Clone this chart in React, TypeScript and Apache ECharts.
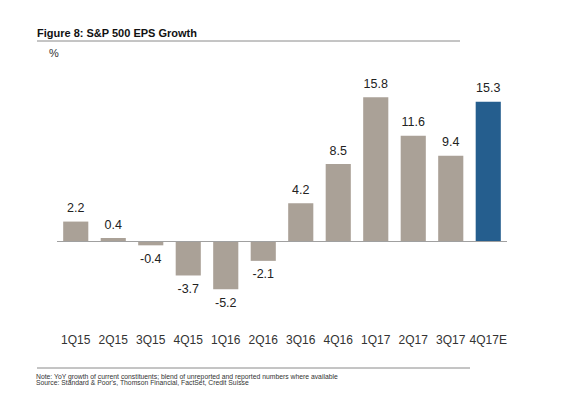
import React, { useEffect, useRef } from "react";
import * as echarts from "echarts";

const categories = ["1Q15", "2Q15", "3Q15", "4Q15", "1Q16", "2Q16", "3Q16", "4Q16", "1Q17", "2Q17", "3Q17", "4Q17E"];
const values = [2.2, 0.4, -0.4, -3.7, -5.2, -2.1, 4.2, 8.5, 15.8, 11.6, 9.4, 15.3];
const highlightIndex = 11;

const titleText = "Figure 8: S&P 500 EPS Growth";
const unitText = "%";
const noteText = "Note: YoY growth of current constituents; blend of unreported and reported numbers where available";
const sourceText = "Source: Standard & Poor's, Thomson Financial, FactSet, Credit Suisse";

const GRAY = "#aaa197";
const BLUE = "#255e8e";
const FONT = "'Liberation Sans', Arial, Helvetica, sans-serif";

export default function App() {
  const ref = useRef<HTMLDivElement>(null);
  useEffect(() => {
    if (!ref.current) return;
    const chart = echarts.init(ref.current, undefined, { renderer: "svg" });
    chart.setOption({
      animation: false,
      backgroundColor: "#ffffff",
      textStyle: { fontFamily: FONT },
      grid: { left: 57, right: 77, top: 77.2, bottom: 102.5 },
      xAxis: {
        type: "category",
        data: categories,
        axisLine: { show: false, onZero: false },
        axisTick: { show: false },
        axisLabel: { color: "#333", fontSize: 12, margin: 37, fontFamily: FONT, interval: 0 },
        splitLine: { show: false },
      },
      yAxis: {
        type: "value",
        min: -6,
        max: 18,
        show: false,
        splitLine: { show: false },
      },
      series: [
        {
          type: "bar",
          barCategoryGap: "33%",
          data: values.map((v, i) => ({
            value: v,
            itemStyle: { color: i === highlightIndex ? BLUE : GRAY },
            label: { position: v >= 0 ? "top" : "bottom" },
          })),
          label: {
            show: true,
            distance: 7,
            color: "#222",
            fontSize: 12.5,
            fontFamily: FONT,
          },
          markLine: {
            silent: true,
            symbol: "none",
            label: { show: false },
            lineStyle: { color: "#a0a0a0", width: 1, type: "solid" },
            data: [{ yAxis: 0 }],
          },
          z: 3,
        },
      ],
      graphic: [
        {
          type: "text",
          left: 37,
          top: 27,
          style: { text: titleText, font: `bold 11px ${FONT}`, fill: "#111" },
        },
        {
          type: "line",
          shape: { x1: 37, y1: 41, x2: 460, y2: 41 },
          style: { stroke: "#8a8a8a", lineWidth: 1 },
        },
        {
          type: "text",
          left: 49,
          top: 47,
          style: { text: unitText, font: `11px ${FONT}`, fill: "#333" },
        },
        {
          type: "line",
          shape: { x1: 37, y1: 368, x2: 470, y2: 368 },
          style: { stroke: "#8a8a8a", lineWidth: 1 },
        },
        {
          type: "text",
          left: 36,
          top: 373,
          style: { text: noteText, font: `6.8px ${FONT}`, fill: "#333" },
        },
        {
          type: "text",
          left: 36,
          top: 379,
          style: { text: sourceText, font: `6.8px ${FONT}`, fill: "#333" },
        },
      ],
    });
    return () => chart.dispose();
  }, []);
  return (
    <div
      ref={ref}
      style={{ position: "fixed", left: 0, top: 0, width: 584, height: 399 }}
    />
  );
}
